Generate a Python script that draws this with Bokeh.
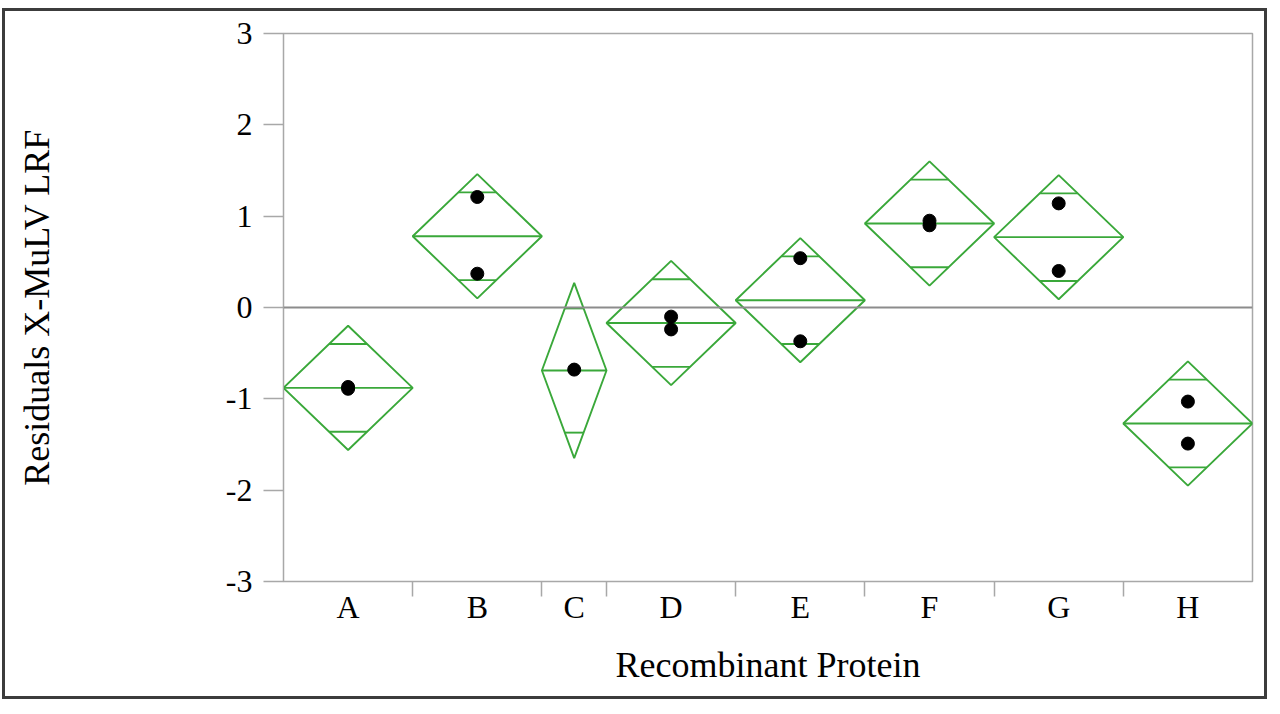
from bokeh.plotting import figure
from bokeh.models import FixedTicker, Span, InlineStyleSheet
from bokeh.embed import file_html
from bokeh.resources import INLINE

# ---- data ----
categories = ["A", "B", "C", "D", "E", "F", "G", "H"]
group_n = [2, 2, 1, 2, 2, 2, 2, 2]            # sample size -> category width
means = [-0.88, 0.78, -0.69, -0.17, 0.08, 0.92, 0.77, -1.27]
ci_half = [0.68, 0.68, 0.96, 0.68, 0.68, 0.68, 0.68, 0.68]       # diamond half-height
overlap_half = [0.48, 0.48, 0.68, 0.48, 0.48, 0.48, 0.48, 0.48]  # overlap marks offset
points_A = [-0.87, -0.89]
points_B = [1.21, 0.37]
points_C = [-0.68]
points_D = [-0.10, -0.24]
points_E = [0.54, -0.37]
points_F = [0.95, 0.90]
points_G = [1.14, 0.40]
points_H = [-1.03, -1.49]
y_ticks = [-3, -2, -1, 0, 1, 2, 3]
y_tick_labels = ["-3", "-2", "-1", "0", "1", "2", "3"]

all_points = [points_A, points_B, points_C, points_D, points_E, points_F, points_G, points_H]

GREEN = "#3aa83a"
GRAY = "#a8a8a8"
FONT = "Liberation Serif"

# category geometry from sample sizes
lefts, rights, centers = [], [], []
acc = 0
for n in group_n:
    lefts.append(acc)
    rights.append(acc + n)
    centers.append(acc + n / 2)
    acc += n
total = acc

p = figure(width=1265, height=691, output_backend="svg", toolbar_location=None,
           x_range=(0, total), y_range=(-3, 3),
           min_border_left=278, min_border_right=18, min_border_top=22, min_border_bottom=121)
p.stylesheets = [InlineStyleSheet(css=":host { border: 3px solid #3c3c3c; margin: 8px 0 0 2px; }")]
p.background_fill_color = "white"
p.border_fill_color = "white"
p.outline_line_color = GRAY
p.outline_line_width = 1.5
p.xgrid.visible = False
p.ygrid.visible = False

# zero reference line
p.add_layout(Span(location=0, dimension="width", line_color="#8c8c8c", line_width=1.8))

# diamonds
xs, ys = [], []
ml_x0, ml_x1, ml_y = [], [], []
om_x0, om_x1, om_y = [], [], []
for l, r, c, m, ci, om in zip(lefts, rights, centers, means, ci_half, overlap_half):
    xs.append([l, c, r, c])
    ys.append([m, m + ci, m, m - ci])
    ml_x0.append(l); ml_x1.append(r); ml_y.append(m)
    hw = (r - l) / 2 * (1 - om / ci)
    for s in (1, -1):
        om_x0.append(c - hw); om_x1.append(c + hw); om_y.append(m + s * om)

p.patches(xs, ys, fill_color=None, line_color=GREEN, line_width=1.9)
p.segment(x0=ml_x0, y0=ml_y, x1=ml_x1, y1=ml_y, line_color=GREEN, line_width=1.9)
p.segment(x0=om_x0, y0=om_y, x1=om_x1, y1=om_y, line_color=GREEN, line_width=1.9)

# points
px, py = [], []
for c, pts in zip(centers, all_points):
    for v in pts:
        px.append(c); py.append(v)
p.scatter(px, py, size=13, color="black")

# axes
xa = p.xaxis[0]
xa.ticker = FixedTicker(ticks=centers, minor_ticks=lefts[1:])
xa.major_label_overrides = {c: name for c, name in zip(centers, categories)}
xa.major_tick_line_color = None
xa.major_tick_out = 4
xa.major_tick_in = 0
xa.minor_tick_line_color = GRAY
xa.minor_tick_line_width = 1.5
xa.minor_tick_out = 15
xa.minor_tick_in = 0
xa.axis_line_color = GRAY
xa.major_label_standoff = -8
xa.major_label_text_font = FONT
xa.major_label_text_font_size = "32px"
xa.major_label_text_color = "black"
xa.axis_label = "Recombinant Protein"
xa.axis_label_text_font = FONT
xa.axis_label_text_font_size = "36px"
xa.axis_label_text_font_style = "normal"
xa.axis_label_text_color = "black"
xa.axis_label_standoff = 17

ya = p.yaxis[0]
ya.ticker = FixedTicker(ticks=y_ticks, minor_ticks=[])
ya.major_label_overrides = {t: s for t, s in zip(y_ticks, y_tick_labels)}
ya.major_tick_line_color = GRAY
ya.major_tick_line_width = 1.5
ya.major_tick_out = 20
ya.major_tick_in = 0
ya.axis_line_color = GRAY
ya.major_label_standoff = 11
ya.major_label_text_font = FONT
ya.major_label_text_font_size = "32px"
ya.major_label_text_color = "black"
ya.axis_label = "Residuals X-MuLV LRF"
ya.axis_label_text_font = FONT
ya.axis_label_text_font_size = "36px"
ya.axis_label_text_font_style = "normal"
ya.axis_label_text_color = "black"
ya.axis_label_standoff = 166

open("out.html", "w").write(file_html(p, INLINE))
